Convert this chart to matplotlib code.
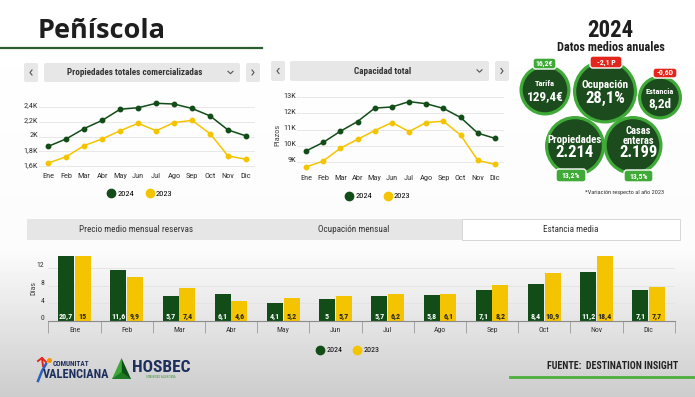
import numpy as np
import matplotlib.pyplot as plt
from matplotlib.patches import Circle, FancyBboxPatch, Rectangle, Polygon
from matplotlib.lines import Line2D
from matplotlib.transforms import ScaledTranslation

W, H = 695, 397
GREEN = "#124d18"
YELLOW = "#f5c400"
LIME = "#40aa38"
DARK = "#1c4c1d"
RED = "#e2261c"
NAVY = "#1d2f5c"
NARROW = ["Roboto Condensed", "Liberation Sans Narrow", "Liberation Sans", "DejaVu Sans"]

plt.rcParams["font.family"] = NARROW

months = ["Ene", "Feb", "Mar", "Abr", "May", "Jun", "Jul", "Ago", "Sep", "Oct", "Nov", "Dic"]

# miles de propiedades
props_2024 = [1.87, 1.97, 2.11, 2.22, 2.37, 2.39, 2.45, 2.44, 2.38, 2.28, 2.09, 2.01]
props_2023 = [1.645, 1.73, 1.88, 1.97, 2.08, 2.18, 2.08, 2.19, 2.22, 2.04, 1.74, 1.695]
props_ticks = [1.6, 1.8, 2.0, 2.2, 2.4]
props_labels = ["1,6K", "1,8K", "2K", "2,2K", "2,4K"]

# miles de plazas
cap_2024 = [9.68, 10.21, 10.9, 11.5, 12.33, 12.4, 12.73, 12.6, 12.31, 11.75, 10.78, 10.46]
cap_2023 = [8.69, 9.06, 9.85, 10.4, 10.94, 11.44, 10.88, 11.44, 11.52, 10.66, 9.1, 8.85]
cap_ticks = [9, 10, 11, 12, 13]
cap_labels = ["9K", "10K", "11K", "12K", "13K"]

# estancia media (dias)
stay_2024 = [20.7, 11.6, 5.7, 6.1, 4.1, 5, 5.7, 5.8, 7.1, 8.4, 11.2, 7.1]
stay_2023 = [15, 9.9, 7.4, 4.6, 5.2, 5.7, 6.2, 6.1, 8.2, 10.9, 18.4, 7.7]
stay_ticks = [0, 4, 8, 12]

tabs = ["Precio medio mensual reservas", "Ocupación mensual", "Estancia media"]

kpi_names = ["Tarifa", "Ocupación", "Estancia", "Propiedades", "Casas\nenteras"]
kpi_values = ["129,4€", "28,1%", "8,2d", "2.214", "2.199"]
kpi_changes = ["16,2€", "-2,1 P", "-0,6D", "13,2%", "13,5%"]
kpi_up = [True, False, False, True, True]


def px_axes(fig, x0, y0, x1, y1):
    ax = fig.add_axes([x0 / W, 1 - y1 / H, (x1 - x0) / W, (y1 - y0) / H])
    ax.set_facecolor("none")
    return ax


def shift(labels, fig, dx=0, dy=0):
    for lb in labels:
        lb.set_transform(lb.get_transform() + ScaledTranslation(dx / 100, dy / 100, fig.dpi_scale_trans))


def legend_handles(ms):
    return [Line2D([], [], marker="o", ls="", color=GREEN, ms=ms, label="2024"),
            Line2D([], [], marker="o", ls="", color=YELLOW, ms=ms, label="2023")]


def line_chart(fig, box, y24, y23, ticks, labels, ylim, xpad, leg):
    ax = px_axes(fig, *box)
    x = np.arange(len(months))
    ax.plot(x, y24, color=GREEN, lw=1.1, marker="o", ms=3.2, zorder=3)
    ax.plot(x, y23, color=YELLOW, lw=1.1, marker="o", ms=3.2, zorder=3)
    ax.set_xlim(-0.5, 11.5)
    ax.set_ylim(*ylim)
    ax.set_xticks(x, months)
    ax.set_yticks(ticks, labels)
    ax.grid(axis="y", color="#e8e8e8", lw=0.7)
    for s in ax.spines.values():
        s.set_visible(False)
    ax.tick_params(length=0, labelsize=6, colors="#333333")
    ax.tick_params(axis="x", pad=xpad)
    ax.tick_params(axis="y", pad=1)
    shift(ax.get_yticklabels(), fig, dy=2)
    ax.legend(handles=legend_handles(6), loc="center", ncol=2, frameon=False,
              bbox_to_anchor=(leg[0] / W, 1 - leg[1] / H), bbox_transform=fig.transFigure,
              fontsize=6, handletextpad=0.3, columnspacing=1.4, handlelength=0.9)
    return ax


def dropdown(ov, x0, x1, xs, xe, y0, y1, title, tx):
    h = y1 - y0
    for a, b in [(x0, x0 + 14), (xs, xe), (x1 - 14, x1)]:
        ov.add_patch(FancyBboxPatch((a, y0), b - a, h, boxstyle="round,pad=0,rounding_size=2",
                                    fc="#e7e7e7", ec="none"))
    cy = (y0 + y1) / 2
    ov.plot([x0 + 8, x0 + 6, x0 + 8], [cy - 2.5, cy, cy + 2.5], color="#555555", lw=0.8)
    ov.plot([x1 - 8, x1 - 6, x1 - 8], [cy - 2.5, cy, cy + 2.5], color="#555555", lw=0.8)
    ov.plot([xe - 12, xe - 9.5, xe - 7], [cy - 1.2, cy + 1.2, cy - 1.2], color="#555555", lw=0.8)
    ov.text(tx, cy, title, ha="center", va="center", fontsize=6.6, fontweight="bold", color="#333333")


fig = plt.figure(figsize=(W / 100, H / 100), dpi=100)

# fondo / capa de dibujo en pixeles
ov = fig.add_axes([0, 0, 1, 1])
ov.set_xlim(0, W)
ov.set_ylim(H, 0)
ov.axis("off")
rows = np.arange(H)
shade = np.interp(rows, [0, 250, H], [1.0, 0.985, 0.80])
ov.imshow(np.repeat(shade[:, None], 2, axis=1), cmap="gray", vmin=0, vmax=1,
          aspect="auto", extent=(0, W, H, 0), zorder=0)

# titulo
ov.text(38, 37.7, "Peñíscola", fontsize=19.5, fontweight="bold", color="#1e1e1e",
        family=["Open Sans", "DejaVu Sans"], va="baseline")
ov.plot([0, 262], [48, 48], color="#2b5e2b", lw=1.6)

# selectores
dropdown(ov, 24, 260, 44, 240, 63, 82, "Propiedades totales comercializadas", 135)
dropdown(ov, 271, 509, 290, 489, 61, 81, "Capacidad total", 383)

# graficos de lineas
line_chart(fig, (39.3, 98.1, 255, 169.3), props_2024, props_2023, props_ticks, props_labels,
           (1.56, 2.52), 3.0, (140, 193.5))
line_chart(fig, (297.4, 92.4, 503.6, 170.9), cap_2024, cap_2023, cap_ticks, cap_labels,
           (8.45, 13.3), 3.2, (378, 196))
ov.text(277, 134.7, "Plazos", rotation=90, ha="center", va="center", fontsize=6, color="#444444")

# KPIs
ov.text(610, 37, "2024", ha="center", va="baseline", fontsize=16.5, fontweight="bold", color="#1e1e1e")
ov.text(611, 51, "Datos medios anuales", ha="center", va="baseline", fontsize=8.8, fontweight="bold",
        color="#1e1e1e")
centers = [(545, 90, 25.5), (605, 91.5, 32), (660, 97.5, 22), (575, 146, 30), (633, 145.5, 29.5)]
name_size = [6, 8, 6, 7.8, 7.6]
value_size = [9.5, 12, 9.5, 12, 12]
badges = [(544.5, 63.5, 23, 11), (606, 62, 32, 12), (665, 73, 24, 10), (571, 175.5, 30, 13),
          (638.5, 176, 29, 12)]
for (cx, cy, r), name, val, ns, vs in zip(centers, kpi_names, kpi_values, name_size, value_size):
    ov.add_patch(Circle((cx, cy), r, fc=LIME, ec="none", zorder=2))
    ov.add_patch(Circle((cx, cy), r - 3.2, fc=DARK, ec="none", zorder=2))
    if "\n" in name:
        ov.text(cx + 5, cy - 10, name, ha="center", va="center", fontsize=ns, fontweight="bold",
                color="white", zorder=3, linespacing=1.0)
        ov.text(cx + 5, cy + 7, val, ha="center", va="center", fontsize=vs, fontweight="bold",
                color="white", zorder=3)
    else:
        ov.text(cx, cy - 6, name, ha="center", va="center", fontsize=ns, fontweight="bold",
                color="white", zorder=3)
        ov.text(cx, cy + 6.5, val, ha="center", va="center", fontsize=vs, fontweight="bold",
                color="white", zorder=3)
for (bx, by, bw, bh), txt, up in zip(badges, kpi_changes, kpi_up):
    ov.add_patch(FancyBboxPatch((bx - bw / 2, by - bh / 2), bw, bh,
                                boxstyle="round,pad=0,rounding_size=3",
                                fc=LIME if up else RED, ec="white", lw=1, zorder=4))
    ov.text(bx, by, txt, ha="center", va="center", fontsize=5.6, fontweight="bold",
            color="white", zorder=5)
ov.text(624.5, 192, "*Variación respecto al año 2023", ha="center", va="center", fontsize=4.5,
        color="#333333")

# pestañas
ov.add_patch(Rectangle((27, 219), 435, 21, fc="#e6e6e6", ec="none"))
ov.add_patch(Rectangle((462, 219), 218, 21, fc="white", ec="#d0d0d0", lw=0.6))
for i, t in enumerate(tabs):
    ov.text(136 + 217.5 * i, 229.5, t, ha="center", va="center", fontsize=6.6, color="#333333")

# grafico de barras
bx = px_axes(fig, 48.4, 255.6, 674.8, 321)
x = np.arange(len(months))
bx.bar(x - 0.16, stay_2024, 0.307, color=GREEN, zorder=2)
bx.bar(x + 0.16, stay_2023, 0.307, color=YELLOW, zorder=2)
for xi, v in zip(x, stay_2024):
    bx.annotate(f"{v:g}".replace(".", ","), (xi - 0.16, 0), xytext=(0, 3.2), textcoords="offset points",
                ha="center", va="center", fontsize=5.8, fontweight="bold", color="white", zorder=3)
for xi, v in zip(x, stay_2023):
    bx.annotate(f"{v:g}".replace(".", ","), (xi + 0.16, 0), xytext=(0, 3.2), textcoords="offset points",
                ha="center", va="center", fontsize=5.8, fontweight="bold", color="#222222", zorder=3)
bx.set_xlim(-0.5, 11.5)
bx.set_ylim(0, 14.8)
bx.set_yticks(stay_ticks)
bx.set_xticks(x, months)
bx.set_xticks(np.arange(13) - 0.5, minor=True)
bx.grid(axis="y", color="#e4e4e4", lw=0.7)
for s in ["top", "right", "left"]:
    bx.spines[s].set_visible(False)
bx.spines["bottom"].set_color("#8a8a8a")
bx.spines["bottom"].set_linewidth(0.8)
bx.tick_params(axis="both", which="major", length=0, labelsize=5.6, colors="#333333")
bx.tick_params(axis="x", which="major", pad=4.5)
bx.tick_params(axis="y", pad=3)
bx.tick_params(axis="x", which="minor", length=8.6, width=0.6, color="#9a9a9a")
shift(bx.get_yticklabels(), fig, dy=3)
ov.text(33, 288, "Días", rotation=90, ha="center", va="center", fontsize=5.8, color="#444444")
fig.legend(handles=legend_handles(6), loc="center", ncol=2, frameon=False,
           bbox_to_anchor=(348 / W, 1 - 350 / H), fontsize=5.8, handletextpad=0.3,
           columnspacing=1.4, handlelength=0.9)

# logos
ov.plot([38, 42, 46], [361, 358, 362], color="#e2261c", lw=1.4)
ov.plot([42, 43], [358, 366], color="#e2261c", lw=1.4)
ov.plot([46, 42, 38], [364, 371, 381], color="#2a62b8", lw=1.8)
ov.plot([49], [360], marker="o", ms=2.5, color="#f39200")
ov.text(53, 364, "COMUNITAT", fontsize=5.2, fontweight="bold", color=NAVY, va="center")
ov.text(43, 374, "VALENCIANA", fontsize=8.8, fontweight="bold", color=NAVY, va="center")
ov.add_patch(Polygon([(112, 379), (121.5, 358), (121.5, 379)], fc="#3aa935", ec="none"))
ov.add_patch(Polygon([(121.5, 358), (131, 379), (121.5, 379)], fc="#0f4f1a", ec="none"))
ov.add_patch(Polygon([(112, 379), (121.5, 372), (131, 379)], fc="#1f7a25", ec="none"))
ov.text(132, 368, "HOSBEC", fontsize=12.5, fontweight="bold", color=NAVY, va="center")
ov.text(161, 377.5, "COMUNIDAD VALENCIANA", fontsize=2, color="#2e8b2e", ha="center", va="center")

# fuente
ov.text(678, 366, "FUENTE:  DESTINATION INSIGHT", ha="right", va="center", fontsize=7.1,
        fontweight="bold", color="#222222")
ov.plot([510, 693], [377, 377], color="#4caf3a", lw=2)

fig.savefig("out.png", dpi=100)
